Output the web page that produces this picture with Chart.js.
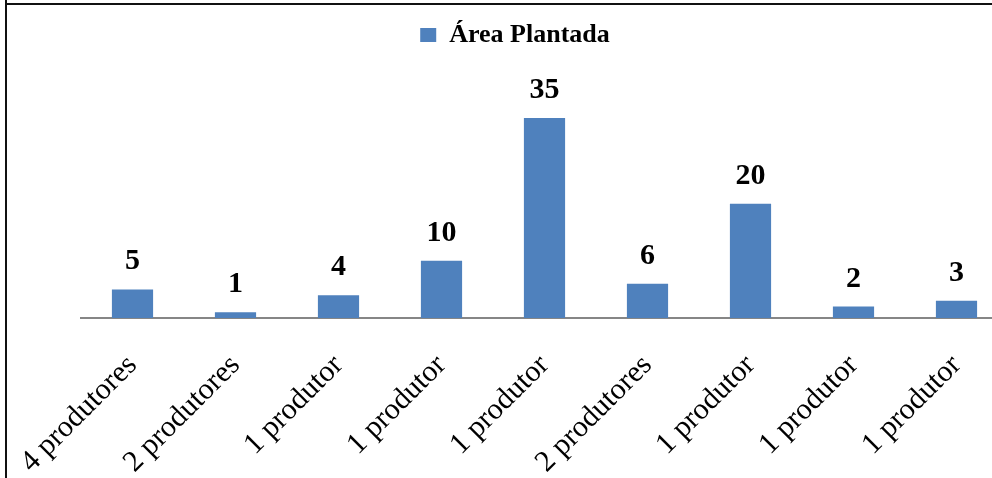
<!DOCTYPE html>
<html>
<head>
<meta charset="utf-8">
<script src="https://cdn.jsdelivr.net/npm/chart.js@4.4.1/dist/chart.umd.min.js"></script>
<style>
  html, body { margin: 0; padding: 0; background: #fff; overflow: hidden; width: 992px; height: 478px; }
  #wrap { position: absolute; left: 0; top: 0; width: 1030px; height: 500px; }
  #frame { position: absolute; left: 5px; top: 3px; width: 1200px; height: 700px;
           border-left: 2px solid #111; border-top: 2px solid #111; pointer-events: none; }
  #stub { position: absolute; left: 5px; top: 0; width: 2px; height: 4px; background: #111; }
</style>
</head>
<body>
<div id="wrap"><canvas id="c"></canvas></div>
<div id="frame"></div>
<div id="stub"></div>
<script>
// Planted area per group of producers
const categories = ['4 produtores', '2 produtores', '1 produtor', '1 produtor', '1 produtor',
                    '2 produtores', '1 produtor', '1 produtor', '1 produtor'];
const areaPlantada = [5, 1, 4, 10, 35, 6, 20, 2, 3];
const seriesName = 'Área Plantada';

const serif = '"Liberation Serif", "Times New Roman", serif';

// Draws each bar's value above it
const valueLabels = {
  id: 'valueLabels',
  afterDatasetsDraw(chart) {
    const ctx = chart.ctx;
    const meta = chart.getDatasetMeta(0);
    ctx.save();
    ctx.font = 'bold 30px ' + serif;
    ctx.fillStyle = '#000';
    ctx.textAlign = 'center';
    ctx.textBaseline = 'alphabetic';
    meta.data.forEach((bar, i) => {
      ctx.fillText(String(areaPlantada[i]), bar.x, bar.y - 20);
    });
    ctx.restore();
  }
};

// Hidden axes that only reserve fixed margins on both sides of the plot
const hiddenAxis = (w) => ({
  display: true,
  grid: { display: false, drawTicks: false },
  border: { display: false },
  ticks: { display: false },
  afterFit(scale) { scale.width = w; }
});

new Chart(document.getElementById('c'), {
  type: 'bar',
  data: {
    labels: categories,
    datasets: [{
      label: seriesName,
      data: areaPlantada,
      backgroundColor: '#4F81BD',
      borderWidth: 0,
      categoryPercentage: 1,
      barPercentage: 0.4,
      yAxisID: 'y'
    }]
  },
  options: {
    responsive: true,
    maintainAspectRatio: false,
    animation: false,
    events: [],
    layout: { padding: { left: 0, right: 0, top: 12, bottom: 0 } },
    plugins: {
      legend: {
        display: true,
        position: 'top',
        labels: {
          color: '#000',
          font: { family: serif, size: 26, weight: 'bold' },
          boxWidth: 16,
          boxHeight: 14,
          padding: 10
        }
      },
      tooltip: { enabled: false }
    },
    scales: {
      x: {
        grid: { display: false, drawTicks: false },
        border: { display: true, color: '#868686', width: 2 },
        ticks: {
          color: '#000',
          font: { family: serif, size: 30 },
          minRotation: 45,
          maxRotation: 45,
          padding: 30,
          autoSkip: false
        },
        afterFit(scale) {
          scale.height = 182;
          // rotated labels may run past the plot edges; keep the plot width fixed
          scale.paddingLeft = 0;
          scale.paddingRight = 0;
        }
      },
      y: Object.assign(hiddenAxis(81), { position: 'left', min: 0, max: 45.5 }),
      yr: Object.assign(hiddenAxis(22), { position: 'right', min: 0, max: 1 })
    }
  },
  plugins: [valueLabels]
});
</script>
</body>
</html>
